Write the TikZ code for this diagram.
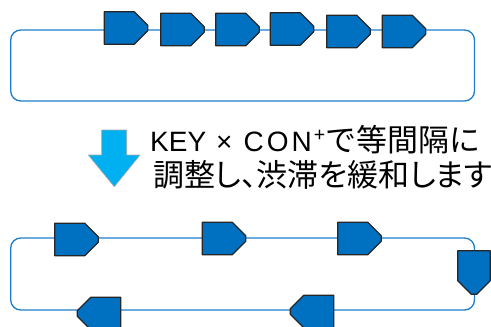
\documentclass[tikz,border=0pt]{standalone}
\usepackage{fontspec}
\setmainfont{Liberation Sans}
\newfontfamily\jpfont{Noto Sans CJK JP}
\newfontfamily\jppfont[RawFeature={+palt}]{Noto Sans CJK JP}
\definecolor{carblue}{RGB}{0,112,192}
\definecolor{roadblue}{RGB}{30,124,204}
\definecolor{arrowblue}{RGB}{0,176,240}
\begin{document}
\begin{tikzpicture}[x=1pt, y=-1pt, line join=round, line cap=round]
\tikzset{
  road/.style={draw=roadblue, line width=1.3pt, rounded corners=10pt},
  carbody/.style={fill=carblue, draw=black!85, line width=1.2pt},
  car/.pic={\draw[carbody] (-21.75,-16.25) -- (8.25,-16.25) -- (21.75,-2.75) -- (21.75,2.75) -- (8.25,16.25) -- (-21.75,16.25) -- cycle;},
  txt/.style={anchor=base west, inner sep=0pt, font=\fontsize{28}{30}\selectfont}
}
\useasboundingbox (0,0) rectangle (491,327);
% before: cars bunched up
\draw[road] (10.7,30) rectangle (474.5,101);
\foreach \x/\y in {126/28, 182.5/29.5, 237.5/29.5, 292/29, 348.5/31.5, 404/31.5}
  \pic at (\x,\y) {car};
% arrow and text
\draw[fill=arrowblue, draw=gray!70, line width=0.6pt] (101.7,130) -- (126.7,130) -- (126.7,155) -- (140,155) -- (114.3,186.7) -- (88.3,155) -- (101.7,155) -- cycle;
\node[txt] (line1) at (150,151) {KEY\hspace{10pt}×\hspace{11pt}C\kern3pt O\kern3pt N\hspace{2pt}\textsuperscript{+}{\jpfont\fontsize{31}{31}\selectfont で等間隔に}};
\node[txt] (line2) at (153,186.5) {\jppfont\fontsize{31}{32}\selectfont 調整し、渋滞を緩和します};
% after: cars evenly spaced
\draw[road] (10.7,238) rectangle (474.5,310);
\foreach \x/\y in {76.5/239.5, 224/238.5, 359.5/238.5}
  \pic at (\x,\y) {car};
\pic[rotate=-90] at (474,272.5) {car};
\foreach \x/\y in {99/313.5, 312/311.5}
  \pic[rotate=180] at (\x,\y) {car};
\end{tikzpicture}
\end{document}
